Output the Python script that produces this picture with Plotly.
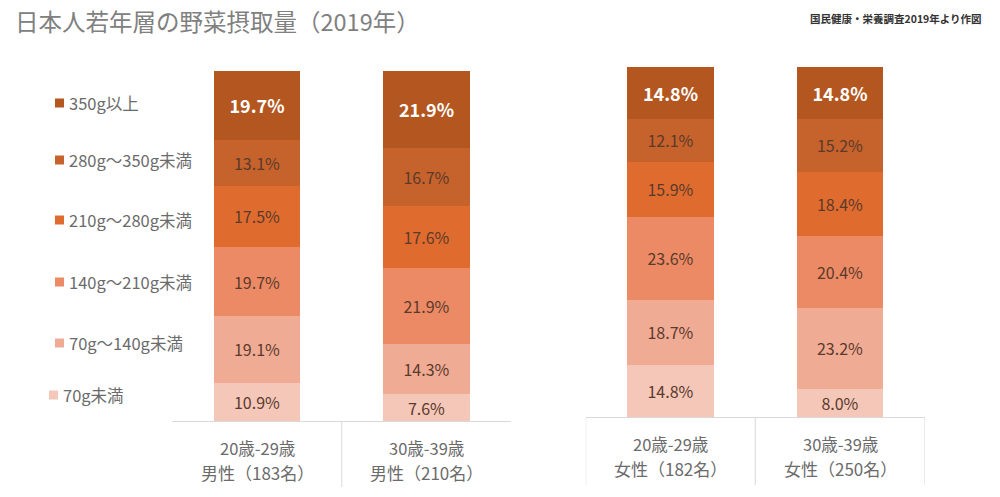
import plotly.graph_objects as go

W, H = 1000, 497

# ---------------- data ----------------
bands = ["70g未満", "70g～140g未満", "140g～210g未満", "210g～280g未満", "280g～350g未満", "350g以上"]

male_groups = ["20歳-29歳", "30歳-39歳"]
male_counts = ["男性（183名）", "男性（210名）"]
female_groups = ["20歳-29歳", "30歳-39歳"]
female_counts = ["女性（182名）", "女性（250名）"]

male_20s = [10.9, 19.1, 19.7, 17.5, 13.1, 19.7]
male_30s = [7.6, 14.3, 21.9, 17.6, 16.7, 21.9]
female_20s = [14.8, 18.7, 23.6, 15.9, 12.1, 14.8]
female_30s = [8.0, 23.2, 20.4, 18.4, 15.2, 14.8]

title_text = "日本人若年層の野菜摂取量（2019年）"
source_text = "国民健康・栄養調査2019年より作図"

# ---------------- styles ----------------
colors = ["#f4c7b9", "#f0ab94", "#eb8a64", "#df6c2e", "#c6622b", "#b3561f"]
FONT = "Noto Sans CJK JP"
LABEL_DARK = "#5a3a2c"
GRAY = "#6b6b6b"
LINE = "#d9d9d9"


def fx(px):
    return px / W


def fy(py):
    return 1 - py / H


fig = go.Figure()

male_sets = [male_20s, male_30s]
female_sets = [female_20s, female_30s]

for i, band in enumerate(bands):
    top = i == len(bands) - 1
    tmpl = "<b>%{y:.1f}%</b>" if top else "%{y:.1f}%"
    tfont = dict(family=FONT, size=18 if top else 16,
                 color="#ffffff" if top else LABEL_DARK)
    for xs, sets, xa, ya in [(male_groups, male_sets, "x", "y"),
                             (female_groups, female_sets, "x2", "y2")]:
        fig.add_trace(go.Bar(
            x=xs, y=[s[i] for s in sets], name=band,
            marker=dict(color=colors[i], line=dict(width=0)),
            texttemplate=tmpl, textposition="inside", insidetextanchor="middle",
            textangle=0, textfont=tfont, constraintext="none",
            xaxis=xa, yaxis=ya, showlegend=False, hoverinfo="skip"))

# panel geometry (pixels)
L_X0, L_X1 = 172.25, 511.25
R_X0, R_X1 = 585.75, 924.75
L_BASE, L_TOP = 421, 71
R_BASE, R_TOP = 417, 67

axis_common = dict(type="category", range=[-0.5, 1.5], showticklabels=False,
                   ticks="", showgrid=False, zeroline=False,
                   showline=True, linecolor=LINE, linewidth=1, fixedrange=True)
yaxis_common = dict(range=[0, 100], visible=False, showgrid=False, fixedrange=True)

fig.update_layout(
    width=W, height=H,
    margin=dict(l=0, r=0, t=0, b=0),
    paper_bgcolor="white", plot_bgcolor="rgba(0,0,0,0)",
    barmode="stack", bargap=0.487,
    font=dict(family=FONT, color=GRAY),
    xaxis=dict(domain=[fx(L_X0), fx(L_X1)], anchor="y", **axis_common),
    yaxis=dict(domain=[fy(L_BASE), fy(L_TOP)], anchor="x", **yaxis_common),
    xaxis2=dict(domain=[fx(R_X0), fx(R_X1)], anchor="y2", **axis_common),
    yaxis2=dict(domain=[fy(R_BASE), fy(R_TOP)], anchor="x2", **yaxis_common),
)

annotations = []
shapes = []

# title & source
annotations.append(dict(text=title_text, x=fx(13), y=fy(21), xref="paper", yref="paper",
                        xanchor="left", yanchor="middle", showarrow=False,
                        font=dict(family=FONT, size=23.5, color="#808080")))
annotations.append(dict(text="<b>" + source_text + "</b>", x=fx(808), y=fy(18),
                        xref="paper", yref="paper", xanchor="left", yanchor="middle",
                        showarrow=False, font=dict(family=FONT, size=10.5, color="#333333")))

# category labels (two lines)
for xa, groups, counts, base in [("x", male_groups, male_counts, L_BASE),
                                 ("x2", female_groups, female_counts, R_BASE)]:
    for j in range(len(groups)):
        annotations.append(dict(text=groups[j], x=j, y=fy(base + 27), xref=xa, yref="paper",
                                xanchor="center", yanchor="middle", showarrow=False,
                                font=dict(family=FONT, size=16.5, color=GRAY)))
        annotations.append(dict(text=counts[j], x=j, y=fy(base + 51), xref=xa, yref="paper",
                                xanchor="center", yanchor="middle", showarrow=False,
                                font=dict(family=FONT, size=17, color=GRAY)))

# category divider lines
for xa, positions, base, bottom in [("x", [0.5], L_BASE, 487),
                                    ("x2", [-0.5, 0.5, 1.5], R_BASE, 485)]:
    for p in positions:
        shapes.append(dict(type="line", xref=xa, yref="paper", x0=p, x1=p,
                           y0=fy(base), y1=fy(bottom), line=dict(color=LINE, width=1)))

# legend (custom, left side)
legend_y = [395, 343, 282, 220, 160, 103]
legend_sq_x = [49, 55, 55, 55, 55, 55]
for i, band in enumerate(bands):
    cy = legend_y[i]
    sx = legend_sq_x[i]
    shapes.append(dict(type="rect", xref="paper", yref="paper",
                       x0=fx(sx), x1=fx(sx + 9), y0=fy(cy - 4.5), y1=fy(cy + 4.5),
                       fillcolor=colors[i], line=dict(width=0)))
    annotations.append(dict(text=band, x=fx(sx + 12), y=fy(cy), xref="paper", yref="paper",
                            xanchor="left", yanchor="middle", showarrow=False,
                            font=dict(family=FONT, size=16.5, color=GRAY)))

fig.update_layout(annotations=annotations, shapes=shapes)

fig.write_html("out.html",
               config={"displayModeBar": False, "staticPlot": True},
               post_script="document.body.style.margin='0';document.body.style.padding='0';")
